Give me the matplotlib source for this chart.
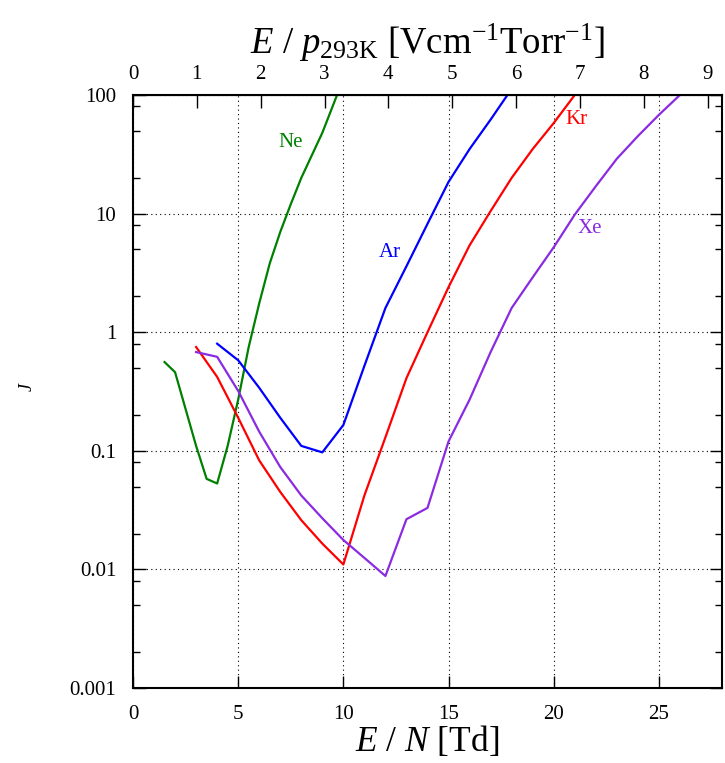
import matplotlib
matplotlib.use("Agg")
import matplotlib.pyplot as plt
from matplotlib.ticker import LogLocator, FixedLocator, NullFormatter

#
# Data
#
ne_x = [1.5, 2, 3, 3.5, 4, 4.5, 5, 5.5, 6, 6.5, 7, 7.5, 8, 9, 9.7]
ne_y = [0.56, 0.46, 0.11, 0.058, 0.053, 0.11, 0.27, 0.75, 1.75, 3.8, 7.0, 12.0, 20.0, 48.0, 100.0]

ar_x = [4, 5, 6, 7, 8, 9, 10, 11, 12, 13, 14, 15, 16, 17, 17.8]
ar_y = [0.8, 0.58, 0.34, 0.19, 0.11, 0.097, 0.165, 0.52, 1.6, 3.6, 8.2, 18.5, 35.0, 62.0, 100.0]

kr_x = [3, 4, 5, 6, 7, 8, 9, 10, 11, 12, 13, 14, 15, 16, 17, 18, 19, 20, 21]
kr_y = [0.75, 0.42, 0.19, 0.083, 0.045, 0.026, 0.0165, 0.011, 0.042, 0.13, 0.41,
        1.0, 2.4, 5.4, 10.5, 20.0, 35.0, 58.0, 100.0]

xe_x = [3, 4, 5, 6, 7, 8, 9, 10, 11, 12, 13, 14, 15, 16, 17, 18, 19, 20, 21,
        22, 23, 24, 25, 26]
xe_y = [0.68, 0.62, 0.32, 0.145, 0.073, 0.042, 0.027, 0.0177, 0.0125, 0.0088,
        0.0265, 0.033, 0.12, 0.27, 0.68, 1.6, 2.9, 5.2, 9.8, 17.0, 29.0, 45.0,
        68.0, 100.0]

# Td -> V cm^-1 Torr^-1 at 293 K
td_to_ep = 0.3295

#
# Style
#
plt.rcParams["font.family"] = ["Liberation Serif", "DejaVu Serif"]
plt.rcParams["mathtext.fontset"] = "custom"
plt.rcParams["mathtext.rm"] = "Liberation Serif"
plt.rcParams["mathtext.it"] = "Liberation Serif:italic"
tick_fs = 15
label_fs = 25.5
gas_fs = 15

fig = plt.figure(figsize=(7.25, 7.63), dpi=100)
ax = fig.add_axes([133 / 725, 1 - 688 / 763, (722 - 133) / 725, (688 - 95) / 763])

ax.plot(ne_x, ne_y, color="#008000", lw=1.6)
ax.plot(ar_x, ar_y, color="#0000ff", lw=1.6)
ax.plot(kr_x, kr_y, color="#ff0000", lw=1.6)
ax.plot(xe_x, xe_y, color="#8a2be2", lw=1.6)

ax.set_yscale("log")
ax.set_xlim(0, 28)
ax.set_ylim(0.001, 100)

ax.set_xticks([0, 5, 10, 15, 20, 25])
ax.yaxis.set_major_locator(FixedLocator([0.001, 0.01, 0.1, 1, 10, 100]))
ax.set_yticklabels(["0.001", "0.01", "0.1", "1", "10", "100"])
ax.yaxis.set_minor_locator(LogLocator(base=10, subs=(2, 5, 8)))
ax.yaxis.set_minor_formatter(NullFormatter())

ax.tick_params(axis="both", which="major", direction="in", length=9, width=1,
               labelsize=tick_fs, right=True, top=False)
ax.tick_params(axis="x", which="major", pad=12)
ax.tick_params(axis="y", which="major", pad=12)
ax.tick_params(axis="y", which="minor", direction="in", length=5, width=1, right=True)
for s in ax.spines.values():
    s.set_linewidth(1.5)

ax.grid(True, which="major", linestyle=(0, (1, 3)), color="black", lw=0.8)

# top axis in E/p
top = ax.secondary_xaxis("top", functions=(lambda x: x * td_to_ep, lambda x: x / td_to_ep))
top.set_xticks(range(0, 10))
top.tick_params(direction="in", length=9, width=1, labelsize=tick_fs, pad=8)
top.set_xlabel(r"$E$ / $p_{293\mathrm{K}}$ [Vcm$^{-1}$Torr$^{-1}$]", fontsize=label_fs + 1, labelpad=8)

ax.set_xlabel(r"$E$ / $N$ [Td]", fontsize=label_fs, labelpad=0)
fig.text(27 / 725, 1 - 387 / 763, "$J$", fontsize=13, rotation=90, ha="center", va="center")

# gas labels
ax.text(7.5, 40, "Ne", color="#008000", fontsize=gas_fs, ha="center", va="center")
ax.text(12.2, 4.7, "Ar", color="#0000ff", fontsize=gas_fs, ha="center", va="center")
ax.text(21.1, 62, "Kr", color="#ff0000", fontsize=gas_fs, ha="center", va="center")
ax.text(21.7, 7.5, "Xe", color="#8a2be2", fontsize=gas_fs, ha="center", va="center")

fig.savefig("out.png", dpi=100)
